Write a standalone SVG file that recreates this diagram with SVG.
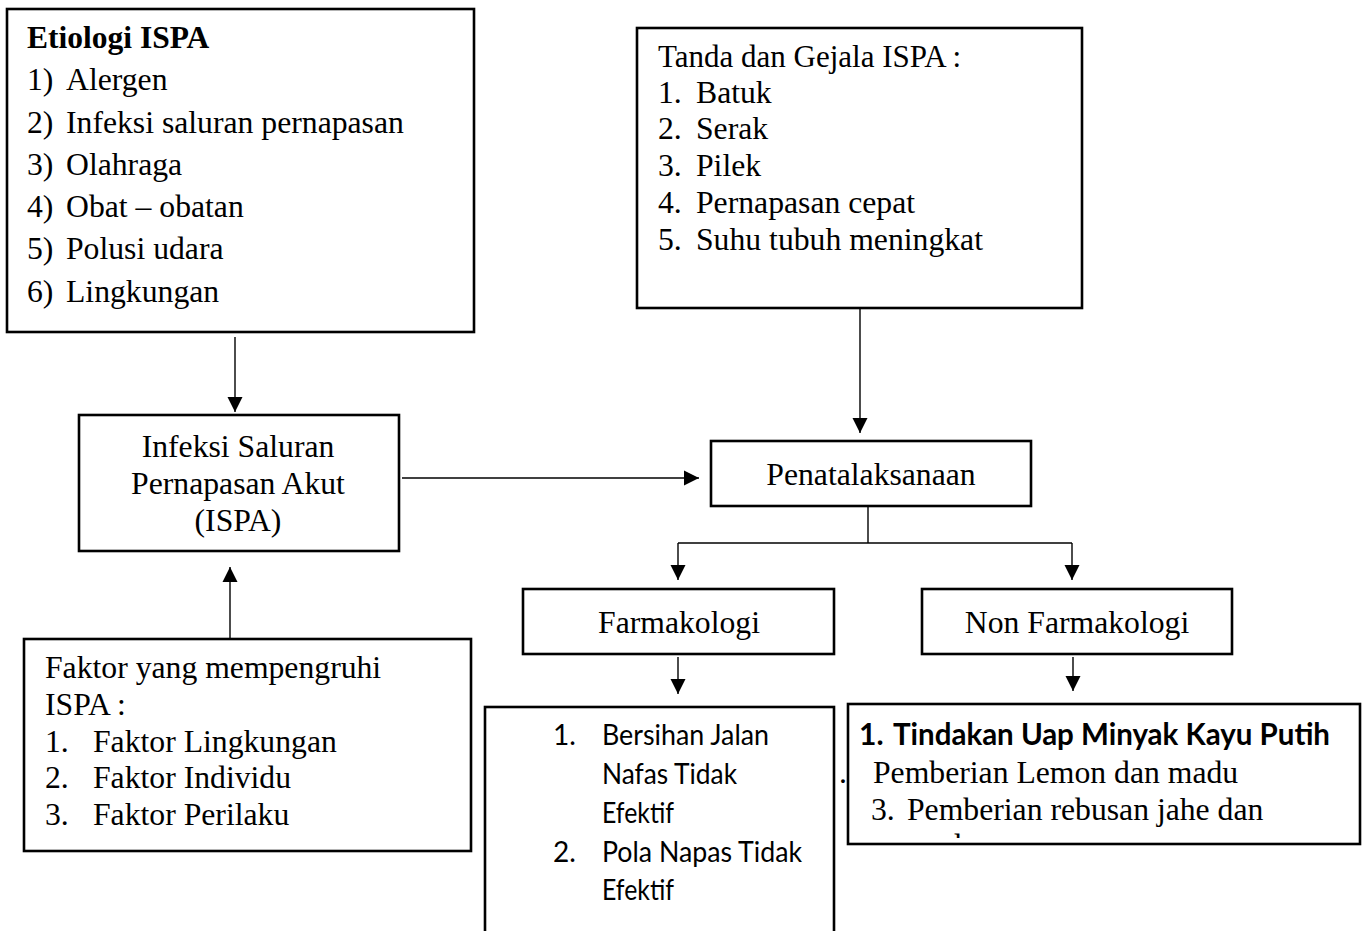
<svg xmlns="http://www.w3.org/2000/svg" width="1369" height="931" viewBox="0 0 1369 931">
<style>
.box{fill:#fff;stroke:#000;stroke-width:2.6}
.t{font-family:"Liberation Serif","Times New Roman",serif;font-size:31.7px;fill:#000}
.tb{font-family:"Liberation Serif","Times New Roman",serif;font-size:31.5px;font-weight:bold;fill:#000}
.c{font-family:Lato,"Open Sans",sans-serif;font-size:28px;fill:#000}
.cb{font-family:Lato,"Open Sans",sans-serif;font-size:30px;font-weight:bold;fill:#000}
.mid{text-anchor:middle}
.con line{stroke:#000;stroke-width:1.4;fill:none}
</style>
<defs>
<marker id="ah" markerUnits="userSpaceOnUse" markerWidth="16" markerHeight="16" viewBox="0 0 16 16" refX="15" refY="8" orient="auto">
<path d="M0,0.5 L15,8 L0,15.5 Z" fill="#000"/>
</marker>
<clipPath id="nfclip"><rect x="849" y="704" width="510" height="134"/></clipPath>
</defs>
<rect width="1369" height="931" fill="#fff"/>

<g id="etiologi">
<rect class="box" x="7" y="9" width="467" height="323"/>
<text class="tb" x="27" y="48">Etiologi ISPA</text>
<text class="t" x="27" y="90">1)</text><text class="t" x="66" y="90">Alergen</text>
<text class="t" x="27" y="133">2)</text><text class="t" x="66" y="133">Infeksi saluran pernapasan</text>
<text class="t" x="27" y="175">3)</text><text class="t" x="66" y="175">Olahraga</text>
<text class="t" x="27" y="217">4)</text><text class="t" x="66" y="217">Obat – obatan</text>
<text class="t" x="27" y="259">5)</text><text class="t" x="66" y="259">Polusi udara</text>
<text class="t" x="27" y="302">6)</text><text class="t" x="66" y="302">Lingkungan</text>
</g>

<g id="tanda">
<rect class="box" x="637" y="28" width="445" height="280"/>
<text class="t" x="658" y="67" style="font-size:31px">Tanda dan Gejala ISPA :</text>
<text class="t" x="658" y="103">1.</text><text class="t" x="696" y="103">Batuk</text>
<text class="t" x="658" y="139">2.</text><text class="t" x="696" y="139">Serak</text>
<text class="t" x="658" y="176">3.</text><text class="t" x="696" y="176">Pilek</text>
<text class="t" x="658" y="213">4.</text><text class="t" x="696" y="213">Pernapasan cepat</text>
<text class="t" x="658" y="250">5.</text><text class="t" x="696" y="250">Suhu tubuh meningkat</text>
</g>

<g id="ispa">
<rect class="box" x="79" y="415" width="320" height="136"/>
<text class="t mid" x="238" y="457">Infeksi Saluran</text>
<text class="t mid" x="238" y="494">Pernapasan Akut</text>
<text class="t mid" x="238" y="531">(ISPA)</text>
</g>

<g id="penatalaksanaan">
<rect class="box" x="711" y="441" width="320" height="65"/>
<text class="t mid" x="871" y="485">Penatalaksanaan</text>
</g>

<g id="faktor">
<rect class="box" x="24" y="639" width="447" height="212"/>
<text class="t" x="45" y="678">Faktor yang mempengruhi</text>
<text class="t" x="45" y="715">ISPA :</text>
<text class="t" x="45" y="752">1.</text><text class="t" x="93" y="752">Faktor Lingkungan</text>
<text class="t" x="45" y="788">2.</text><text class="t" x="93" y="788">Faktor Individu</text>
<text class="t" x="45" y="825">3.</text><text class="t" x="93" y="825">Faktor Perilaku</text>
</g>

<g id="farmakologi">
<rect class="box" x="523" y="589" width="311" height="65"/>
<text class="t mid" x="679" y="633">Farmakologi</text>
</g>

<g id="nonfarmakologi">
<rect class="box" x="922" y="589" width="310" height="65"/>
<text class="t mid" x="1077" y="633">Non Farmakologi</text>
</g>

<g id="farmakologi-isi">
<rect class="box" x="485" y="707" width="349" height="240"/>
<text class="c" x="553" y="745">1.</text><text class="c" x="602" y="745" textLength="167" lengthAdjust="spacingAndGlyphs">Bersihan Jalan</text>
<text class="c" x="602" y="784" textLength="135" lengthAdjust="spacingAndGlyphs">Nafas Tidak</text>
<text class="c" x="602" y="823" textLength="72" lengthAdjust="spacingAndGlyphs">Efektif</text>
<text class="c" x="553" y="862">2.</text><text class="c" x="602" y="862" textLength="200" lengthAdjust="spacingAndGlyphs">Pola Napas Tidak</text>
<text class="c" x="602" y="900" textLength="72" lengthAdjust="spacingAndGlyphs">Efektif</text>
</g>

<g id="nonfarmakologi-isi">
<rect class="box" x="848" y="704" width="512" height="140"/>
<text class="cb" x="859" y="745">1.</text><text class="cb" x="893" y="745" textLength="437" lengthAdjust="spacingAndGlyphs">Tindakan Uap Minyak Kayu Putih</text>
<text class="t" x="839" y="783">.</text><text class="t" x="873" y="783">Pemberian Lemon dan madu</text>
<text class="t" x="871" y="820">3.</text><text class="t" x="907" y="820">Pemberian rebusan jahe dan</text>
<g clip-path="url(#nfclip)"><text class="t" x="907" y="856">madu</text></g>
</g>

<g id="connectors" class="con">
<line x1="235" y1="337" x2="235" y2="412" marker-end="url(#ah)"/>
<line x1="860" y1="309" x2="860" y2="433" marker-end="url(#ah)"/>
<line x1="402" y1="478" x2="699" y2="478" marker-end="url(#ah)"/>
<line x1="230" y1="638" x2="230" y2="567" marker-end="url(#ah)"/>
<line x1="868" y1="507" x2="868" y2="543"/>
<line x1="678" y1="543" x2="1072" y2="543"/>
<line x1="678" y1="543" x2="678" y2="580" marker-end="url(#ah)"/>
<line x1="1072" y1="543" x2="1072" y2="580" marker-end="url(#ah)"/>
<line x1="678" y1="657" x2="678" y2="694" marker-end="url(#ah)"/>
<line x1="1073" y1="657" x2="1073" y2="691" marker-end="url(#ah)"/>
</g>
</svg>
